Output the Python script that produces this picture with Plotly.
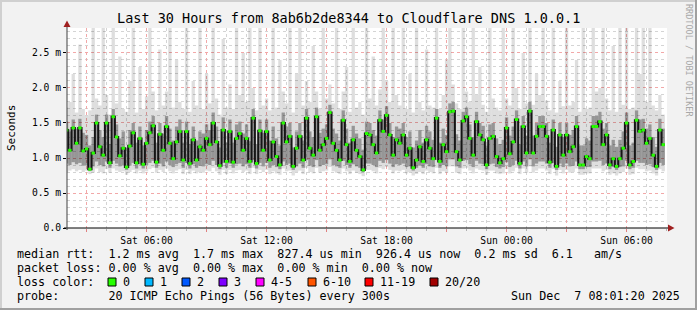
import numpy as np
import pandas as pd
import plotly.graph_objects as go

# ---------------- data (milliseconds, one value per 10-minute step) ----------------
median_ms = [
    1.40, 1.11, 1.43, 1.21, 1.43, 1.10, 1.13, 0.84, 1.07, 1.50,
    1.16, 1.04, 1.50, 0.93, 1.59, 1.30, 1.03, 1.14, 0.87, 1.17,
    1.36, 0.93, 1.28, 0.91, 1.21, 1.36, 1.46, 0.94, 1.34, 1.11,
    1.45, 1.21, 0.99, 1.23, 1.38, 0.97, 1.38, 0.92, 1.26, 0.97,
    1.16, 1.11, 1.28, 1.19, 1.50, 1.23, 0.89, 1.40, 0.95, 1.38,
    0.94, 1.28, 1.35, 1.11, 1.28, 0.95, 1.57, 0.92, 1.39, 1.11,
    1.38, 0.97, 1.23, 1.02, 0.90, 1.50, 1.23, 1.31, 0.88, 1.14,
    1.31, 0.97, 1.57, 1.14, 1.04, 1.59, 1.11, 1.19, 1.28, 1.65,
    1.21, 1.11, 0.97, 1.54, 1.19, 0.95, 1.26, 1.11, 1.02, 0.83,
    1.35, 1.33, 1.19, 1.07, 1.54, 1.38, 1.61, 1.33, 1.04, 1.26,
    1.21, 1.33, 1.04, 1.14, 0.86, 0.97, 1.16, 0.95, 1.26, 1.14,
    0.99, 1.57, 0.95, 1.19, 1.09, 1.66, 1.67, 1.09, 0.97, 1.53,
    1.59, 1.28, 1.04, 1.52, 1.33, 1.26, 0.90, 1.28, 1.31, 1.02,
    0.93, 0.99, 1.43, 1.06, 1.23, 1.55, 0.92, 1.45, 1.07, 1.67,
    1.07, 1.31, 1.45, 1.45, 1.31, 0.94, 1.40, 0.88, 1.33, 1.04,
    1.33, 1.09, 1.16, 1.45, 0.90, 0.90, 1.02, 0.99, 1.45, 1.45,
    1.52, 1.19, 1.33, 0.90, 0.99, 0.88, 0.99, 1.14, 1.50, 0.90,
    0.95, 1.54, 1.38, 1.40, 1.21, 1.28, 1.04, 0.88, 1.40, 1.19,
]

inner_lo_ms = [
    0.92, 0.90, 0.94, 0.91, 0.93, 0.89, 0.90, 0.82, 0.88, 0.95,
    0.90, 0.88, 0.95, 0.86, 0.96, 0.92, 0.88, 0.90, 0.83, 0.89,
    0.93, 0.85, 0.91, 0.85, 0.90, 0.93, 0.96, 0.86, 0.92, 0.88,
    0.95, 0.90, 0.87, 0.91, 0.93, 0.86, 0.93, 0.85, 0.91, 0.86,
    0.89, 0.88, 0.91, 0.90, 0.96, 0.90, 0.84, 0.93, 0.86, 0.92,
    0.86, 0.91, 0.92, 0.88, 0.91, 0.86, 0.97, 0.85, 0.93, 0.88,
    0.93, 0.86, 0.90, 0.87, 0.84, 0.95, 0.90, 0.92, 0.83, 0.88,
    0.92, 0.86, 0.97, 0.89, 0.87, 0.97, 0.88, 0.90, 0.91, 0.98,
    0.90, 0.88, 0.86, 0.96, 0.90, 0.86, 0.91, 0.88, 0.86, 0.80,
    0.92, 0.92, 0.90, 0.87, 0.96, 0.93, 0.97, 0.92, 0.87, 0.91,
    0.90, 0.92, 0.87, 0.88, 0.82, 0.86, 0.89, 0.86, 0.91, 0.88,
    0.87, 0.97, 0.86, 0.90, 0.88, 0.98, 0.98, 0.88, 0.86, 0.96,
    0.97, 0.91, 0.87, 0.96, 0.92, 0.91, 0.84, 0.91, 0.92, 0.87,
    0.85, 0.87, 0.94, 0.87, 0.90, 0.96, 0.85, 0.95, 0.88, 0.98,
    0.88, 0.92, 0.95, 0.95, 0.92, 0.86, 0.93, 0.83, 0.92, 0.87,
    0.92, 0.88, 0.89, 0.95, 0.84, 0.84, 0.87, 0.87, 0.95, 0.95,
    0.96, 0.90, 0.92, 0.84, 0.87, 0.83, 0.87, 0.88, 0.96, 0.84,
    0.86, 0.96, 0.93, 0.93, 0.90, 0.91, 0.87, 0.83, 0.93, 0.90,
]

inner_hi_ms = [
    1.52, 1.38, 1.55, 1.42, 1.56, 1.36, 1.33, 1.18, 1.30, 1.62,
    1.40, 1.30, 1.62, 1.20, 1.70, 1.48, 1.28, 1.38, 1.15, 1.40,
    1.50, 1.22, 1.45, 1.18, 1.40, 1.52, 1.60, 1.22, 1.50, 1.35,
    1.60, 1.42, 1.25, 1.45, 1.55, 1.22, 1.52, 1.20, 1.45, 1.25,
    1.38, 1.35, 1.48, 1.40, 1.65, 1.45, 1.15, 1.58, 1.22, 1.55,
    1.22, 1.48, 1.52, 1.35, 1.48, 1.24, 1.70, 1.20, 1.55, 1.36,
    1.55, 1.25, 1.45, 1.28, 1.18, 1.65, 1.45, 1.50, 1.15, 1.38,
    1.50, 1.25, 1.70, 1.38, 1.30, 1.72, 1.36, 1.42, 1.48, 1.76,
    1.42, 1.35, 1.25, 1.68, 1.42, 1.22, 1.46, 1.35, 1.28, 1.12,
    1.52, 1.50, 1.40, 1.32, 1.68, 1.55, 1.74, 1.50, 1.30, 1.45,
    1.42, 1.50, 1.30, 1.38, 1.15, 1.25, 1.40, 1.22, 1.46, 1.38,
    1.26, 1.70, 1.22, 1.42, 1.33, 1.78, 1.80, 1.34, 1.25, 1.66,
    1.72, 1.48, 1.30, 1.66, 1.50, 1.46, 1.18, 1.48, 1.50, 1.28,
    1.20, 1.26, 1.58, 1.32, 1.45, 1.68, 1.20, 1.60, 1.32, 1.80,
    1.32, 1.50, 1.60, 1.60, 1.50, 1.22, 1.55, 1.16, 1.50, 1.30,
    1.50, 1.33, 1.40, 1.60, 1.18, 1.18, 1.28, 1.25, 1.60, 1.60,
    1.66, 1.42, 1.50, 1.18, 1.26, 1.16, 1.26, 1.38, 1.65, 1.18,
    1.22, 1.68, 1.55, 1.56, 1.42, 1.48, 1.30, 1.16, 1.56, 1.42,
]

min_ms = [
    0.80, 0.82, 0.84, 0.81, 0.83, 0.80, 0.82, 0.77, 0.79, 0.85,
    0.80, 0.78, 0.84, 0.79, 0.85, 0.82, 0.80, 0.81, 0.76, 0.80,
    0.83, 0.78, 0.82, 0.78, 0.81, 0.84, 0.86, 0.79, 0.83, 0.80,
    0.85, 0.81, 0.78, 0.82, 0.84, 0.77, 0.83, 0.77, 0.82, 0.78,
    0.80, 0.79, 0.82, 0.81, 0.86, 0.81, 0.76, 0.83, 0.77, 0.83,
    0.78, 0.82, 0.83, 0.80, 0.82, 0.77, 0.86, 0.77, 0.83, 0.80,
    0.83, 0.77, 0.81, 0.78, 0.76, 0.85, 0.81, 0.82, 0.75, 0.80,
    0.82, 0.77, 0.86, 0.80, 0.78, 0.86, 0.79, 0.81, 0.82, 0.87,
    0.81, 0.79, 0.77, 0.85, 0.81, 0.77, 0.82, 0.79, 0.77, 0.74,
    0.83, 0.83, 0.81, 0.78, 0.86, 0.84, 0.87, 0.83, 0.78, 0.82,
    0.81, 0.83, 0.78, 0.80, 0.75, 0.77, 0.80, 0.77, 0.82, 0.80,
    0.78, 0.86, 0.77, 0.81, 0.79, 0.88, 0.88, 0.79, 0.77, 0.85,
    0.86, 0.82, 0.78, 0.85, 0.83, 0.82, 0.76, 0.82, 0.82, 0.78,
    0.77, 0.78, 0.84, 0.78, 0.81, 0.86, 0.77, 0.85, 0.79, 0.88,
    0.79, 0.82, 0.85, 0.85, 0.82, 0.77, 0.84, 0.75, 0.83, 0.78,
    0.83, 0.79, 0.80, 0.85, 0.76, 0.76, 0.78, 0.78, 0.85, 0.85,
    0.85, 0.81, 0.83, 0.76, 0.78, 0.75, 0.78, 0.80, 0.85, 0.76,
    0.77, 0.86, 0.84, 0.84, 0.81, 0.82, 0.78, 0.75, 0.84, 0.81,
]

max_ms = [
    1.72, 1.80, 2.20, 1.65, 2.62, 1.70, 1.60, 1.68, 2.86, 1.85,
    1.75, 2.86, 1.90, 1.62, 2.86, 1.78, 2.45, 1.70, 1.66, 2.10,
    2.86, 1.65, 2.30, 1.70, 1.88, 2.86, 1.95, 1.68, 2.55, 1.75,
    1.95, 2.86, 1.72, 2.40, 1.80, 1.70, 2.86, 1.66, 2.10, 1.75,
    2.86, 1.70, 2.20, 1.78, 2.86, 1.85, 1.62, 2.70, 1.72, 2.05,
    1.70, 2.86, 1.90, 2.50, 1.80, 2.86, 2.00, 1.68, 2.86, 1.75,
    1.85, 1.68, 2.86, 1.72, 2.40, 1.95, 1.78, 2.86, 1.65, 2.20,
    2.86, 1.75, 2.10, 1.80, 2.60, 1.95, 1.70, 2.86, 1.85, 2.05,
    1.78, 2.86, 1.70, 1.95, 2.30, 1.66, 2.86, 1.72, 1.80, 1.62,
    2.86, 1.85, 2.45, 1.75, 1.98, 2.86, 2.10, 1.80, 2.86, 1.90,
    1.75, 2.86, 1.70, 2.20, 1.65, 2.86, 1.80, 1.68, 2.55, 1.75,
    1.72, 2.86, 1.70, 1.90, 2.40, 2.86, 2.05, 1.78, 1.70, 2.86,
    1.95, 1.80, 2.86, 1.90, 2.30, 1.76, 1.66, 2.86, 1.85, 1.72,
    1.68, 2.86, 1.85, 1.75, 2.86, 2.00, 1.70, 2.50, 1.78, 2.86,
    1.76, 2.20, 1.90, 2.86, 1.82, 1.68, 2.86, 1.65, 2.10, 1.74,
    2.86, 1.75, 1.80, 2.40, 1.66, 2.86, 1.70, 1.72, 2.86, 1.95,
    2.00, 2.86, 1.85, 1.68, 2.60, 1.66, 2.86, 1.76, 2.86, 1.70,
    1.72, 2.86, 2.20, 2.86, 1.80, 2.86, 1.75, 1.68, 1.90, 1.62,
]

y_tick_ms = [0.0, 0.5, 1.0, 1.5, 2.0, 2.5]
y_tick_labels = ["0.0", "0.5 m", "1.0 m", "1.5 m", "2.0 m", "2.5 m"]
x_tick_labels = ["Sat 06:00", "Sat 12:00", "Sat 18:00", "Sun 00:00", "Sun 06:00"]

loss_labels = ["0", "1", "2", "3", "4-5", "6-10", "11-19", "20/20"]
loss_colors = ["#26ff00", "#00b8ff", "#0059ff", "#7e00ff", "#ff00ff", "#ff5500", "#ff0000", "#a10000"]

title_text = "Last 30 Hours from 8ab6b2de8344 to Cloudflare DNS 1.0.0.1"
legend_rows = [
    "median rtt:  1.2 ms avg  1.7 ms max  827.4 us min  926.4 us now  0.2 ms sd  6.1   am/s",
    "packet loss: 0.00 % avg  0.00 % max  0.00 % min  0.00 % now",
    "loss color:",
    "probe:       20 ICMP Echo Pings (56 Bytes) every 300s",
]
stamp_text = "Sun Dec  7 08:01:20 2025"

# ---------------- geometry helpers (pixel -> paper) ----------------
W, H = 697, 310
L, R, T, B = 67, 667, 28, 228


def px(x):
    return (x - L) / (R - L)


def py(y):
    return (B - y) / (B - T)


MONO = "DejaVu Sans Mono"

t_end = pd.Timestamp("2025-12-07 08:01:20")
t_start = t_end - pd.Timedelta(hours=30)
step = pd.Timedelta(minutes=10)
starts = pd.date_range("2025-12-06 01:55:00", periods=len(median_ms), freq="10min")
centers = starts + step / 2
step_ms = step.total_seconds() * 1000

sec = 1e-3
med = np.array(median_ms) * sec
lo = np.array(min_ms) * sec
hi = np.array(max_ms) * sec
ilo = np.minimum(np.array(inner_lo_ms) * sec, med)
ihi = np.maximum(np.array(inner_hi_ms) * sec, med)

fig = go.Figure()

# smoke: full range (lightest) and inner range
fig.add_trace(go.Bar(x=centers, y=hi - lo, base=lo, width=step_ms,
                     marker=dict(color="rgba(0,0,0,0.13)", line=dict(width=0)),
                     hoverinfo="skip"))
fig.add_trace(go.Bar(x=centers, y=ihi - ilo, base=ilo, width=step_ms,
                     marker=dict(color="rgba(0,0,0,0.32)", line=dict(width=0)),
                     hoverinfo="skip"))

# median line (dark) and loss-coloured median marks on top
fig.add_trace(go.Scatter(x=list(starts) + [starts[-1] + step], y=list(med) + [med[-1]],
                         mode="lines", line=dict(color="#151515", width=2, shape="hv"),
                         hoverinfo="skip"))
seg_x, seg_y = [], []
for s, m in zip(starts, med):
    seg_x += [s, s + step, None]
    seg_y += [m, m, None]
fig.add_trace(go.Scatter(x=seg_x, y=seg_y, mode="lines",
                         line=dict(color=loss_colors[0], width=3),
                         hoverinfo="skip"))

# x ticks every 3 h, labels every 6 h
major = pd.date_range("2025-12-06 03:00", "2025-12-07 06:00", freq="3h")
lab_iter = iter(x_tick_labels)
x_ticktext = [next(lab_iter) if t.hour % 6 == 0 else "" for t in major]

fig.update_layout(
    width=W, height=H, autosize=False,
    template="none",
    showlegend=False,
    barmode="overlay",
    paper_bgcolor="#f2f2f2",
    plot_bgcolor="#ffffff",
    margin=dict(l=L, r=W - R, t=T, b=H - B, pad=0),
    font=dict(family=MONO, color="#000000", size=10),
    xaxis=dict(
        type="date", range=[t_start, t_end], fixedrange=True,
        tickmode="array", tickvals=list(major), ticktext=x_ticktext,
        showgrid=True, gridcolor="#f2a8a8", gridwidth=1, griddash="dot",
        ticks="outside", ticklen=3, tickcolor="#e08080", tickwidth=1,
        tickfont=dict(family=MONO, size=9.7, color="#000000"),
        minor=dict(dtick=3600000, tick0="2025-12-06 00:00", showgrid=True,
                   gridcolor="#d4d4d4", griddash="dot", gridwidth=1,
                   ticks="outside", ticklen=2, tickcolor="#b0b0b0"),
        showline=False, zeroline=False,
    ),
    yaxis=dict(
        range=[0, 2.857e-3], fixedrange=True,
        tickmode="array", tickvals=[v * sec for v in y_tick_ms], ticktext=y_tick_labels,
        showgrid=True, gridcolor="#f2a8a8", gridwidth=1, griddash="dot",
        ticks="outside", ticklen=3, tickcolor="#000000", tickwidth=1,
        tickfont=dict(family=MONO, size=9.7, color="#000000"),
        minor=dict(dtick=0.1e-3, showgrid=True, gridcolor="#d4d4d4",
                   griddash="dot", gridwidth=1),
        showline=False, zeroline=False,
    ),
)

shapes = []
# frame (3D style border)
shapes.append(dict(type="line", xref="paper", yref="paper", x0=px(0), x1=px(W), y0=py(1), y1=py(1),
                   line=dict(color="#d0d0d0", width=2)))
shapes.append(dict(type="line", xref="paper", yref="paper", x0=px(1), x1=px(1), y0=py(0), y1=py(H),
                   line=dict(color="#d0d0d0", width=2)))
shapes.append(dict(type="line", xref="paper", yref="paper", x0=px(0), x1=px(W), y0=py(H - 1), y1=py(H - 1),
                   line=dict(color="#a0a0a0", width=2)))
shapes.append(dict(type="line", xref="paper", yref="paper", x0=px(W - 1), x1=px(W - 1), y0=py(0), y1=py(H),
                   line=dict(color="#a0a0a0", width=2)))
# axes with arrows
shapes.append(dict(type="line", xref="paper", yref="paper", x0=px(64), x1=px(670), y0=py(228), y1=py(228),
                   line=dict(color="#000000", width=1)))
shapes.append(dict(type="line", xref="paper", yref="paper", x0=px(67), x1=px(67), y0=py(230), y1=py(24),
                   line=dict(color="#404040", width=1)))


def tri(points):
    return "M " + " L ".join(f"{px(a):.5f},{py(b):.5f}" for a, b in points) + " Z"


shapes.append(dict(type="path", xref="paper", yref="paper", path=tri([(63.5, 27), (70.5, 27), (67, 20.5)]),
                   fillcolor="#a02020", line=dict(width=0)))
shapes.append(dict(type="path", xref="paper", yref="paper", path=tri([(668, 224.5), (668, 231.5), (674.5, 228)]),
                   fillcolor="#a02020", line=dict(width=0)))

# loss colour legend boxes
label_x = [122, 159, 196, 233, 270, 322, 379, 444]
for lx, col in zip(label_x, loss_colors):
    shapes.append(dict(type="rect", xref="paper", yref="paper",
                       x0=px(lx - 14), x1=px(lx - 6), y0=py(286), y1=py(278),
                       fillcolor=col, line=dict(color="#000000", width=1)))
fig.update_layout(shapes=shapes)


def nb(s):
    return s.replace(" ", "\u00a0")


ann = []
ann.append(dict(text=nb(title_text), x=px(348), y=py(18), xref="paper", yref="paper",
                xanchor="center", yanchor="middle", showarrow=False,
                font=dict(family=MONO, size=13.5, color="#000000")))
ann.append(dict(text="Seconds", x=px(11), y=py(128), xref="paper", yref="paper",
                xanchor="center", yanchor="middle", showarrow=False, textangle=-90,
                font=dict(family=MONO, size=11, color="#000000")))
ann.append(dict(text=nb("RRDTOOL / TOBI OETIKER"), x=px(689), y=py(60), xref="paper", yref="paper",
                xanchor="center", yanchor="middle", showarrow=False, textangle=90,
                font=dict(family=MONO, size=8.5, color="#a8a8a8")))
row_y = [254, 268, 282, 296]
for txt, yy in zip(legend_rows, row_y):
    ann.append(dict(text=nb(txt), x=px(15), y=py(yy), xref="paper", yref="paper",
                    xanchor="left", yanchor="middle", showarrow=False,
                    font=dict(family=MONO, size=11.7, color="#000000")))
for lx, lab in zip(label_x, loss_labels):
    ann.append(dict(text=nb(lab), x=px(lx - 1), y=py(282), xref="paper", yref="paper",
                    xanchor="left", yanchor="middle", showarrow=False,
                    font=dict(family=MONO, size=11.7, color="#000000")))
ann.append(dict(text=nb(stamp_text), x=px(682), y=py(296), xref="paper", yref="paper",
                xanchor="right", yanchor="middle", showarrow=False,
                font=dict(family=MONO, size=11.7, color="#000000")))
fig.update_layout(annotations=ann)

fig.write_html("out.html")
